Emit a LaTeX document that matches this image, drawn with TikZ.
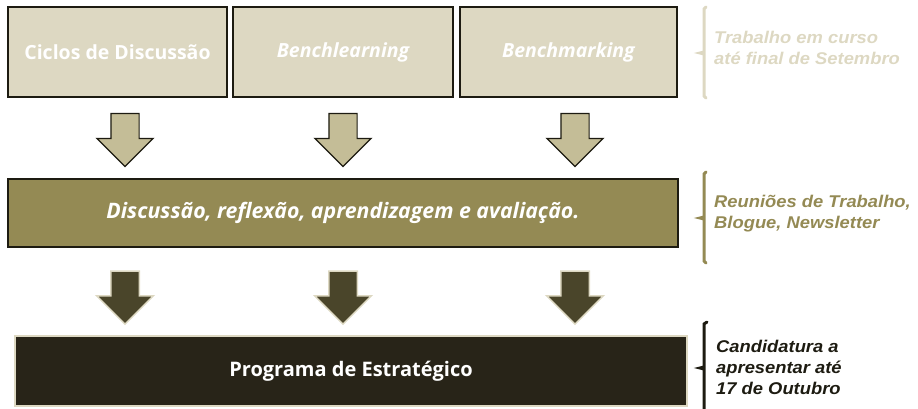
\documentclass[tikz,border=0pt]{standalone}
\usepackage{fontspec}
\setmainfont{Open Sans}
\newfontfamily\sidefont[FakeStretch=1.08]{Liberation Sans}
\usetikzlibrary{shapes.arrows}

\definecolor{sandlight}{RGB}{221,216,194}
\definecolor{sandmid}{RGB}{196,189,151}
\definecolor{olive}{RGB}{148,138,84}
\definecolor{olivedark}{RGB}{74,69,42}
\definecolor{earth}{RGB}{40,36,24}
\definecolor{ink}{RGB}{29,27,17}

\tikzset{
    topbox/.style={draw=ink, line width=1.5pt, fill=sandlight, text=white,
        minimum height=90pt, font=\bfseries\fontsize{19.5}{23}\selectfont},
    midbox/.style={draw=ink, line width=1.5pt, fill=olive, text=white,
        minimum width=670pt, minimum height=68pt, font=\bfseries\itshape\fontsize{21.3}{24}\selectfont},
    lowbox/.style={draw=sandlight, line width=2pt, fill=earth, text=white,
        minimum width=672pt, minimum height=70pt, font=\bfseries\fontsize{20}{24}\selectfont},
    downarrow/.style={single arrow, shape border rotate=270, minimum height=53pt,
        minimum width=55pt, single arrow head extend=14pt, single arrow tip angle=90,
        inner sep=13.5pt},
    lightarrow/.style={downarrow, draw=ink, line width=1.2pt, fill=sandmid},
    darkarrow/.style={downarrow, draw=sandlight, line width=1.5pt, fill=olivedark},
    sidenote/.style={anchor=west, align=left, inner sep=0pt,
        font=\sidefont\bfseries\itshape\fontsize{17}{21}\selectfont},
}

\begin{document}
\begin{tikzpicture}[x=1pt, y=-1pt]
    \useasboundingbox (0,0) rectangle (918,408);

    % top row
    \node[topbox, minimum width=219pt] (ciclos) at (117.5, 52) {Ciclos de Discussão};
    \node[topbox, minimum width=220pt] (benchl) at (343, 52) {\itshape Benchlearning};
    \node[topbox, minimum width=217pt] (benchm) at (568.5, 52) {\itshape Benchmarking};

    % middle and bottom
    \node[midbox] (discussao) at (343, 213) {Discussão, reflexão, aprendizagem e avaliação.};
    \node[lowbox] (programa) at (351, 371) {Programa de Estratégico};

    % arrows
    \foreach \name/\x in {a/125, b/343, c/575} {
        \node[lightarrow] (up\name) at (\x, 133) {};
        \node[darkarrow] (low\name) at (\x, 290.5) {};
    }

    % brackets
    \draw[sandlight, line width=3pt, line cap=round] (706,7) -- (704,9) -- (704,52) -- (700,53) -- (704,54) -- (704,96) -- (706,98);
    \draw[olive, line width=3pt, line cap=round] (706,172) -- (704,174) -- (704,217) -- (700,218) -- (704,219) -- (704,261) -- (706,263);
    \draw[ink, line width=3pt, line cap=round] (707,322) -- (704,324) -- (704,367) -- (700,368) -- (704,369) -- (704,412);

    % notes
    \node[sidenote, text=sandlight] (curso) at (714, 48) {Trabalho em curso\\até final de Setembro};
    \node[sidenote, text=olive] (reunioes) at (714, 213.5) {Reuniões de Trabalho,\\Blogue, Newsletter};
    \node[sidenote, text=ink] (candidatura) at (716, 367) {Candidatura a\\apresentar até\\17 de Outubro};
\end{tikzpicture}
\end{document}
